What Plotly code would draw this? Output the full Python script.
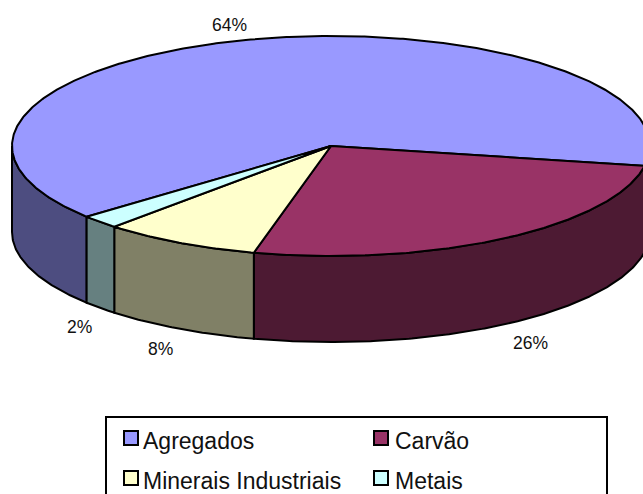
import numpy as np
import plotly.graph_objects as go

# Mineral production shares
categories = ["Agregados", "Carvão", "Minerais Industriais", "Metais"]
shares = [64, 26, 8, 2]
top_colors = ["#9999FF", "#993366", "#FFFFCC", "#CCFFFF"]
side_colors = ["#4D4D80", "#4D1A33", "#808066", "#668080"]

# Canvas and pie geometry in pixels
WIDTH, HEIGHT = 643, 494
CX, CY, RX, RY, DEPTH = 331, 146, 319, 110, 86
FIRST_SLICE_START = -220.0  # degrees, clockwise on screen

INK = "#000000"
LINE_WIDTH = 2
LABEL_FONT = "Liberation Sans, Arial"
fig = go.Figure()


def arc(a0, a1, drop=0):
    t = np.radians(np.linspace(a0, a1, max(int(abs(a1 - a0) * 2), 2)))
    return CX + RX * np.cos(t), CY + RY * np.sin(t) + drop


def polygon(xs, ys, color):
    fig.add_trace(go.Scatter(
        x=list(xs), y=list(ys), mode="lines", fill="toself", fillcolor=color,
        line=dict(color=INK, width=LINE_WIDTH), hoverinfo="skip", showlegend=False,
    ))


# Slice angle ranges derived from the shares
spans = np.array(shares) * 3.6
starts = FIRST_SLICE_START + np.concatenate([[0], np.cumsum(spans)[:-1]])
ends = starts + spans

# Outer wall: only the part of each slice on the front half of the rim is visible
for a0, a1, side in zip(starts, ends, side_colors):
    for turn in (-360, 0, 360):
        lo, hi = max(a0 + turn, 0), min(a1 + turn, 180)
        if lo < hi:
            x_top, y_top = arc(lo, hi)
            x_bot, y_bot = arc(lo, hi, DEPTH)
            polygon(np.r_[x_top, x_bot[::-1], x_top[0]],
                    np.r_[y_top, y_bot[::-1], y_top[0]], side)

# Top face wedges
for a0, a1, top in zip(starts, ends, top_colors):
    x_arc, y_arc = arc(a0, a1)
    polygon(np.r_[CX, x_arc, CX], np.r_[CY, y_arc, CY], top)

# Percentage labels around the pie
label_positions = [(229, 25), (530, 343), (160, 349), (79, 327)]
for share, (lx, ly) in zip(shares, label_positions):
    fig.add_annotation(x=lx, y=ly, text=f"{share}%", showarrow=False,
                       font=dict(family=LABEL_FONT, size=17.5, color="#111111"))

# Legend frame, keys and entries; the frame runs off the bottom of the page
LEGEND_BOX = dict(x0=106, y0=417, x1=607, y1=500)
fig.add_shape(type="rect", **LEGEND_BOX, line=dict(color=INK, width=LINE_WIDTH), fillcolor="white", layer="below")
key_x = [131, 381]
key_y = [438, 478]
text_x = [141, 393]
for i, (name, color) in enumerate(zip(categories, top_colors)):
    col, row = i % 2, i // 2
    fig.add_trace(go.Scatter(
        x=[key_x[col]], y=[key_y[row]], mode="markers",
        marker=dict(symbol="square", size=14, color=color, line=dict(color=INK, width=LINE_WIDTH)),
        hoverinfo="skip", showlegend=False,
    ))
    fig.add_annotation(x=text_x[col], y=key_y[row] + 3, text=name, showarrow=False, xanchor="left",
                       font=dict(family=LABEL_FONT, size=23, color="#111111"))

fig.update_layout(
    width=WIDTH, height=HEIGHT, margin=dict(l=0, r=0, t=0, b=0),
    paper_bgcolor="white", plot_bgcolor="white", showlegend=False,
    xaxis=dict(range=[0, WIDTH], visible=False, fixedrange=True),
    yaxis=dict(range=[HEIGHT, 0], visible=False, fixedrange=True),
)
fig.write_html("out.html", config=dict(displayModeBar=False))
